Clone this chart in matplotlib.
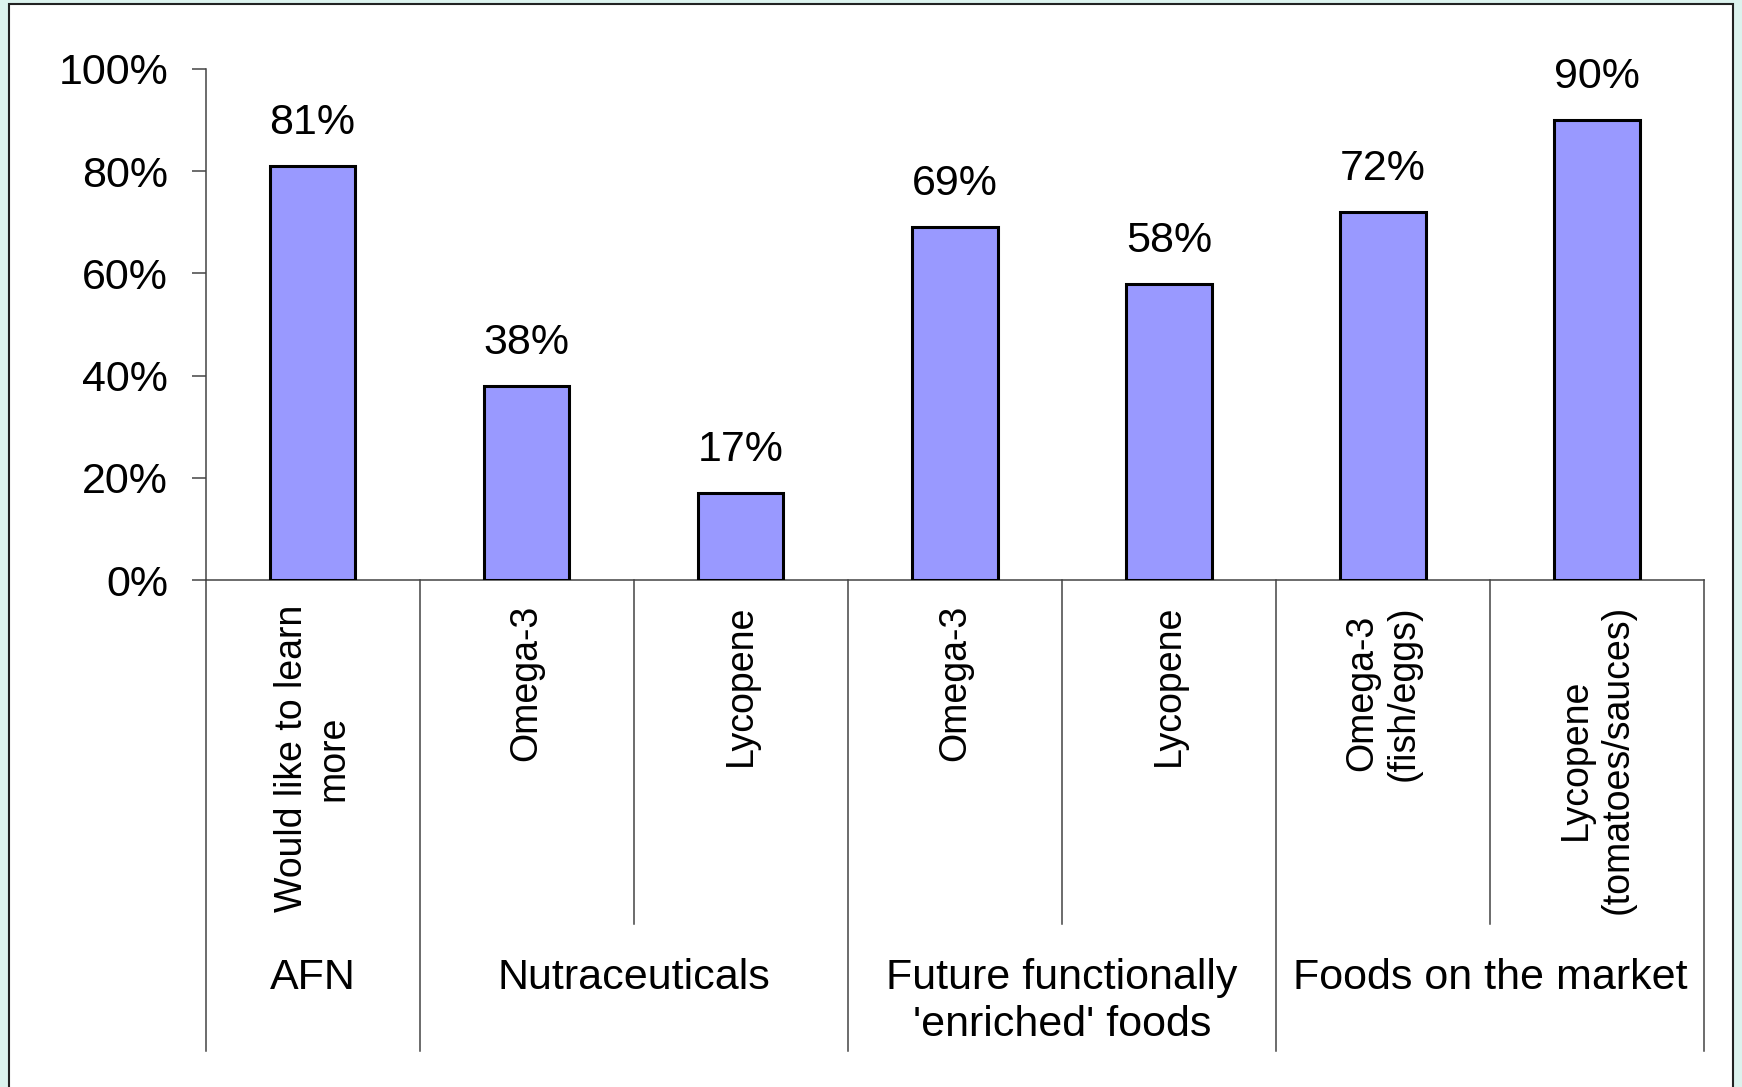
import matplotlib
matplotlib.use("Agg")
import matplotlib.pyplot as plt
from matplotlib.patches import Rectangle
import matplotlib.transforms as mtransforms

plt.rcParams['font.family'] = ['Liberation Sans', 'DejaVu Sans']

# data
bar_labels = ['Would like to learn\nmore', 'Omega-3', 'Lycopene', 'Omega-3', 'Lycopene',
              'Omega-3\n(fish/eggs)', 'Lycopene\n(tomatoes/sauces)']
values = [81, 38, 17, 69, 58, 72, 90]
groups = ['AFN', 'Nutraceuticals', "Future functionally\n'enriched' foods", 'Foods on the market']
group_sizes = [1, 2, 2, 2]
yticks = [0, 20, 40, 60, 80, 100]

W, H = 1742, 1087
fig = plt.figure(figsize=(W / 100, H / 100), dpi=100, facecolor='#dcf3ee')

# white panel with dark border
fig.patches.append(Rectangle((9 / W, -0.05), (1733 - 9) / W, 1.05 - 4 / H,
                             transform=fig.transFigure, facecolor='white',
                             edgecolor='#222222', linewidth=1.5, zorder=-5))

x0, x1 = 205.5, 1704
y0, y1 = 580, 69
ax = fig.add_axes([x0 / W, (H - y0) / H, (x1 - x0) / W, (y0 - y1) / H])
ax.set_facecolor('none')

xs = list(range(len(values)))
ax.bar(xs, values, width=0.40, color='#9999ff', edgecolor='black', linewidth=2.2, zorder=3)

for x, v in zip(xs, values):
    ax.annotate(f'{v}%', (x, v), xytext=(0, 31), textcoords='offset points',
                ha='center', va='center', fontsize=31)

ax.set_xlim(-0.5, len(values) - 0.5)
ax.set_ylim(0, 100)
ax.set_yticks(yticks)
ax.set_yticklabels([f'{t}%' for t in yticks], fontsize=31)
ax.tick_params(axis='y', direction='out', length=10, width=1.1, color='#444444', pad=17)
ax.set_xticks([])
for s in ['top', 'right']:
    ax.spines[s].set_visible(False)
for s in ['left', 'bottom']:
    ax.spines[s].set_color('#444444')
    ax.spines[s].set_linewidth(1.1)

trans = mtransforms.blended_transform_factory(ax.transData, ax.transAxes)
px = 1.0 / (y0 - y1)  # one pixel in axes fraction

# category labels, rotated
for x, lab in zip(xs, bar_labels):
    ax.text(x, -25 * px, lab, transform=trans, rotation=90, ha='center', va='top',
            multialignment='center', fontsize=27)

# separator lines under the axis
bounds = [0]
for g in group_sizes:
    bounds.append(bounds[-1] + g)
long_pos = [b - 0.5 for b in bounds]
all_pos = [i - 0.5 for i in range(len(values) + 1)]
for p in all_pos:
    bottom = -(1051 - y0) * px if p in long_pos else -(924 - y0) * px
    ax.plot([p, p], [0, bottom], transform=trans, color='#444444', linewidth=1.1,
            clip_on=False)

# group labels, one text per line
for i, g in enumerate(groups):
    c = (bounds[i] + bounds[i + 1]) / 2 - 0.5
    for k, line in enumerate(g.split('\n')):
        ax.text(c, -(989 + 47 * k - y0) * px, line, transform=trans, ha='center',
                va='baseline', fontsize=31)

fig.savefig('out.png', dpi=100, facecolor=fig.get_facecolor())
